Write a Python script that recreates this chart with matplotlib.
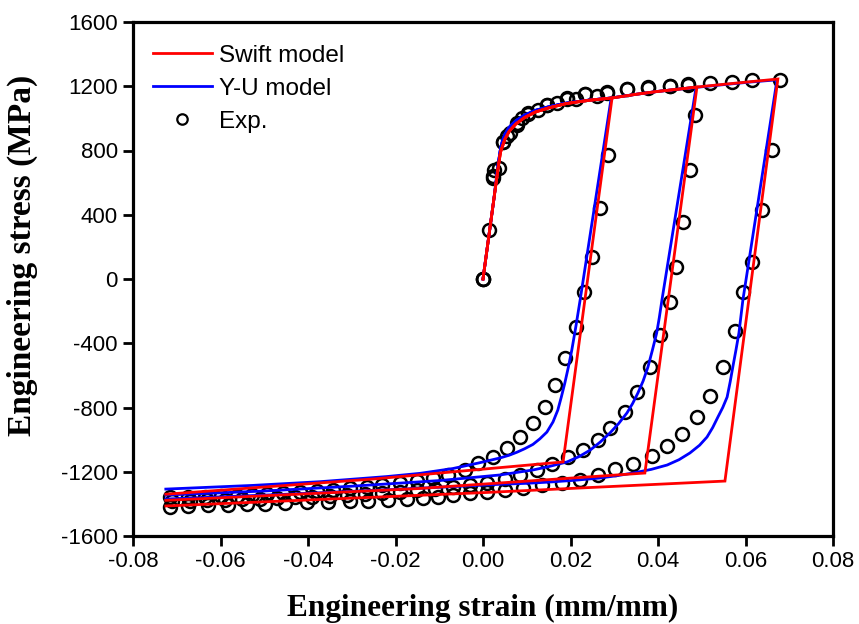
import matplotlib
matplotlib.use("Agg")
import matplotlib.pyplot as plt
import numpy as np

plt.rcParams['axes.unicode_minus'] = False
plt.rcParams['font.family'] = ['Liberation Sans', 'DejaVu Sans']

# ---------------- data ----------------
# Swift model: shared monotonic loading path
swift_load_strain = [0, 0.0025, 0.0035, 0.004, 0.005, 0.006, 0.0075, 0.0095, 0.012, 0.015, 0.019, 0.024,
                     0.0295, 0.035, 0.040, 0.045, 0.0489, 0.055, 0.061, 0.0674]
swift_load_stress = [0, 500, 700, 790, 870, 920, 965, 1005, 1040, 1065, 1092, 1112,
                     1127, 1150, 1168, 1183, 1195, 1212, 1228, 1245]
# Swift model: reverse paths (start at peak of each prestrain)
swift_rev1_strain = [0.0295, 0.0183, -0.025, -0.0725]
swift_rev1_stress = [1127, -1139, -1245, -1340]
swift_rev2_strain = [0.0489, 0.037, -0.015, -0.0725]
swift_rev2_stress = [1195, -1208, -1305, -1378]
swift_rev3_strain = [0.0674, 0.0553, 0.0, -0.0725]
swift_rev3_stress = [1245, -1258, -1330, -1413]

# Y-U model: shared loading path
yu_load_strain = [0, 0.0025, 0.0035, 0.004, 0.0045, 0.005, 0.006, 0.0075, 0.0095, 0.012, 0.015, 0.019, 0.024,
                  0.0293, 0.035, 0.040, 0.045, 0.0487, 0.055, 0.061, 0.0672]
yu_load_stress = [0, 500, 720, 810, 865, 900, 945, 985, 1020, 1050, 1072, 1095, 1113,
                  1127, 1150, 1168, 1183, 1193, 1210, 1226, 1240]
yu_rev1_strain = [0.0293, 0.0222, 0.0212, 0.0203, 0.0195, 0.0187, 0.0179, 0.0171, 0.016, 0.0146,
                  0.013, 0.0114, 0.0095, 0.0078, 0.006, 0.0039, -0.0011,
                  -0.0069, -0.0144, -0.022, -0.0373, -0.0526, -0.0725]
yu_rev1_stress = [1127, -131, -300, -442, -550, -648, -735, -816, -890, -953,
                  -995, -1030, -1057, -1078, -1097, -1114, -1146,
                  -1180, -1210, -1230, -1262, -1285, -1308]
yu_rev2_strain = [0.0487, 0.0409, 0.0403, 0.0397, 0.0387, 0.0377, 0.0366, 0.0354, 0.0342, 0.0329,
                  0.031, 0.029, 0.0268, 0.0245, 0.022, 0.0192, 0.015, 0.0114, 0.0075,
                  0.0039, -0.01, -0.03, -0.05, -0.0725]
yu_rev2_stress = [1193, -131, -240, -336, -445, -548, -635, -710, -775, -834,
                  -900, -959, -1015, -1065, -1105, -1139, -1168, -1189, -1205,
                  -1220, -1255, -1290, -1320, -1345]
yu_rev3_strain = [0.0672, 0.0594, 0.0585, 0.0578, 0.0571, 0.0565, 0.0558, 0.0548, 0.0537, 0.0525,
                  0.0512, 0.0495, 0.0473, 0.0448, 0.0421, 0.0385, 0.0343, 0.0305, 0.0267, 0.021,
                  0.0153, 0.01, 0.0039, -0.02, -0.045, -0.0725]
yu_rev3_stress = [1240, -131, -336, -445, -548, -640, -735, -800, -859, -925,
                  -984, -1035, -1083, -1125, -1158, -1185, -1208, -1225, -1239, -1253,
                  -1264, -1272, -1278, -1310, -1340, -1370]

# Experiments
exp1_load_strain = [0, 0.0014, 0.0022, 0.0037, 0.0046, 0.0062, 0.0078, 0.0103, 0.0146, 0.0192, 0.0233, 0.0283]
exp1_load_stress = [0, 305, 640, 691, 853, 909, 971, 1033, 1083, 1127, 1152, 1164]
exp1_rev_strain = [0.0286, 0.0267, 0.0249, 0.0231, 0.0213, 0.0187, 0.0165, 0.0142, 0.0114, 0.0085,
                   0.0055, 0.0023, -0.0011, -0.0041, -0.008, -0.0114, -0.015, -0.019, -0.023, -0.0265,
                   -0.0304, -0.0343, -0.038, -0.0418, -0.0457, -0.0494, -0.0528, -0.0562, -0.060, -0.0635,
                   -0.0674, -0.0715]
exp1_rev_stress = [772, 442, 137, -81, -299, -492, -660, -797, -897, -984,
                   -1052, -1108, -1146, -1189, -1220, -1239, -1258, -1270, -1283, -1295,
                   -1301, -1314, -1320, -1326, -1332, -1339, -1345, -1348, -1352, -1355,
                   -1357, -1360]

exp2_load_strain = [0, 0.0025, 0.0055, 0.009, 0.0125, 0.017, 0.0212, 0.026, 0.0329, 0.0377, 0.0427, 0.0469]
exp2_load_stress = [0, 680, 890, 1000, 1055, 1098, 1120, 1140, 1183, 1195, 1202, 1214]
exp2_rev_strain = [0.0485, 0.0473, 0.0457, 0.0441, 0.0427, 0.0405, 0.0382, 0.0352, 0.0325, 0.029,
                   0.0263, 0.0229, 0.0194, 0.0158, 0.0123, 0.0085, 0.005, 0.0009, -0.003, -0.0069,
                   -0.011, -0.015, -0.019, -0.023, -0.027, -0.031, -0.035, -0.039, -0.043, -0.047,
                   -0.051, -0.055, -0.059, -0.063, -0.067, -0.071]
exp2_rev_stress = [1021, 679, 355, 75, -143, -349, -548, -704, -828, -928,
                   -1002, -1065, -1108, -1152, -1189, -1220, -1245, -1270, -1282, -1295,
                   -1305, -1315, -1325, -1330, -1338, -1345, -1350, -1355, -1360, -1365,
                   -1368, -1372, -1375, -1378, -1380, -1385]

exp3_load_strain = [0, 0.0022, 0.0046, 0.0078, 0.0103, 0.0146, 0.0192, 0.0233, 0.0283, 0.0329, 0.0377,
                    0.0427, 0.0469, 0.0519, 0.0569, 0.0615, 0.0679]
exp3_load_stress = [0, 630, 850, 960, 1030, 1083, 1120, 1150, 1160, 1180, 1190,
                    1200, 1210, 1220, 1226, 1239, 1239]
exp3_rev_strain = [0.066, 0.0638, 0.0615, 0.0594, 0.0576, 0.0549, 0.0519, 0.0489, 0.0455, 0.0421,
                   0.0386, 0.0343, 0.0302, 0.0263, 0.0222, 0.0181, 0.0135, 0.0091, 0.005, 0.0009,
                   -0.003, -0.0069, -0.0103, -0.0137, -0.0174, -0.0217, -0.0263, -0.0304, -0.0354, -0.0402,
                   -0.0453, -0.0498, -0.054, -0.0583, -0.0629, -0.0674, -0.0715]
exp3_rev_stress = [803, 430, 106, -81, -324, -548, -729, -859, -965, -1040,
                   -1102, -1152, -1183, -1220, -1251, -1270, -1283, -1301, -1314, -1326,
                   -1332, -1345, -1357, -1363, -1370, -1376, -1382, -1382, -1388, -1388,
                   -1395, -1401, -1401, -1407, -1407, -1413, -1420]

x_ticks = [-0.08, -0.06, -0.04, -0.02, 0.00, 0.02, 0.04, 0.06, 0.08]
y_ticks = [-1600, -1200, -800, -400, 0, 400, 800, 1200, 1600]


def path(load_x, load_y, rev_x, rev_y):
    peak = rev_x[0]
    lx = [x for x in load_x if x < peak]
    ly = [y for x, y in zip(load_x, load_y) if x < peak]
    return lx + list(rev_x), ly + list(rev_y)


fig = plt.figure(figsize=(8.59, 6.24), dpi=100)
ax = fig.add_axes([133 / 859, 1 - 536 / 624, 700 / 859, 514 / 624])

mk = dict(ls='none', marker='o', ms=9.3, mfc='none', mec='black', mew=1.8, zorder=1)
for lx, ly, rx, ry in [(exp1_load_strain, exp1_load_stress, exp1_rev_strain, exp1_rev_stress),
                       (exp2_load_strain, exp2_load_stress, exp2_rev_strain, exp2_rev_stress),
                       (exp3_load_strain, exp3_load_stress, exp3_rev_strain, exp3_rev_stress)]:
    ax.plot(list(lx) + list(rx), list(ly) + list(ry), **mk)

for rx, ry in [(yu_rev1_strain, yu_rev1_stress), (yu_rev2_strain, yu_rev2_stress),
               (yu_rev3_strain, yu_rev3_stress)]:
    px, py = path(yu_load_strain, yu_load_stress, rx, ry)
    ax.plot(px, py, color='#0000FF', lw=2.0, zorder=2, solid_joinstyle='round')

for rx, ry in [(swift_rev1_strain, swift_rev1_stress), (swift_rev2_strain, swift_rev2_stress),
               (swift_rev3_strain, swift_rev3_stress)]:
    px, py = path(swift_load_strain, swift_load_stress, rx, ry)
    ax.plot(px, py, color='#FF0000', lw=2.0, zorder=3, solid_joinstyle='miter')

# legend proxies
h1, = ax.plot([], [], color='#FF0000', lw=2.0)
h2, = ax.plot([], [], color='#0000FF', lw=2.0)
h3, = ax.plot([], [], ls='none', marker='o', ms=7.5, mfc='none', mec='black', mew=1.6)
leg = ax.legend([h1, h2, h3], ['Swift model', 'Y-U model', 'Exp.'], loc='upper left',
                bbox_to_anchor=(0.029, 0.956), frameon=False, fontsize=17.5,
                handlelength=2.4, handletextpad=0.3, labelspacing=0.45, borderpad=0,
                borderaxespad=0, numpoints=1)

ax.set_xlim(-0.08, 0.08)
ax.set_ylim(-1600, 1600)
ax.set_xticks(x_ticks)
ax.set_yticks(y_ticks)
ax.set_xticklabels(['%.2f' % v for v in x_ticks])
ax.set_yticklabels(['%d' % v for v in y_ticks])
ax.tick_params(direction='out', length=7, width=2, labelsize=16, pad=4)
for s in ax.spines.values():
    s.set_linewidth(2.3)

ax.set_xlabel('Engineering strain (mm/mm)', family=['Liberation Serif'], fontweight='bold', fontsize=22.5)
ax.set_ylabel('Engineering stress (MPa)', family=['Liberation Serif'], fontweight='bold', fontsize=24)
ax.xaxis.set_label_coords(0.5, -0.112)
ax.yaxis.set_label_coords(-0.135, 0.545)

fig.savefig('out.png', dpi=100)
